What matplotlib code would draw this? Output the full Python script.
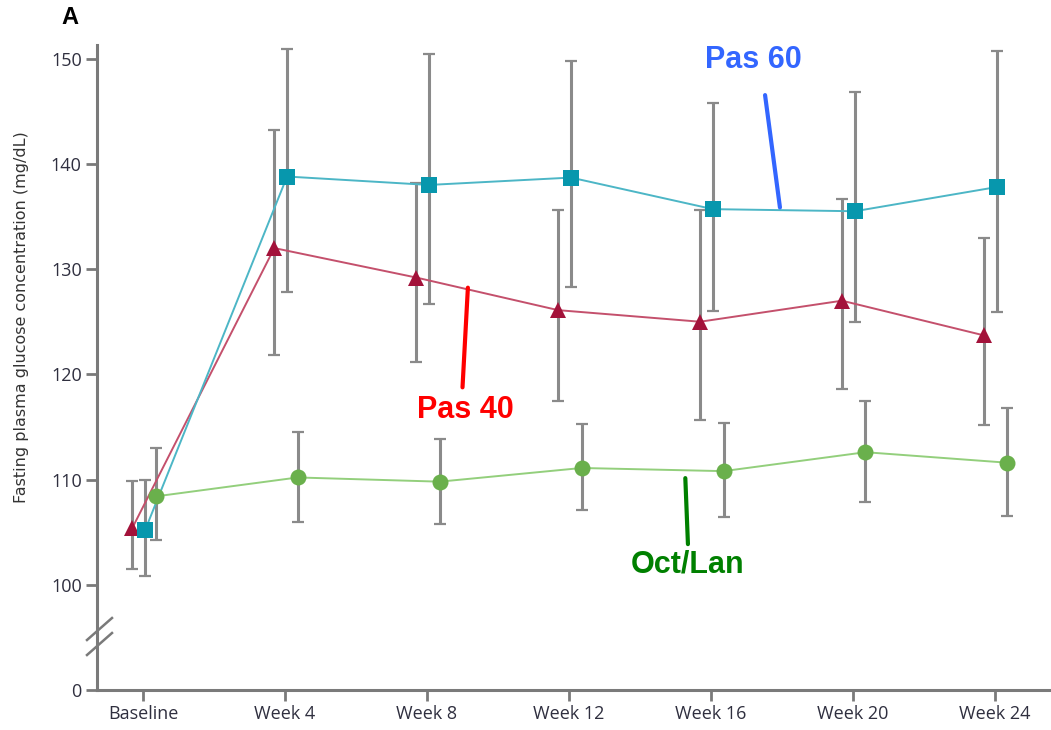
import numpy as np
import matplotlib.pyplot as plt

visits = ["Baseline", "Week 4", "Week 8", "Week 12", "Week 16", "Week 20", "Week 24"]

pas60 = [105.2, 138.8, 138.0, 138.7, 135.7, 135.5, 137.8]
pas60_lo = [100.8, 127.8, 126.7, 128.3, 126.0, 125.0, 125.9]
pas60_hi = [110.0, 150.9, 150.4, 149.8, 145.8, 146.8, 150.7]

pas40 = [105.4, 132.0, 129.2, 126.1, 125.0, 127.0, 123.7]
pas40_lo = [101.5, 121.8, 121.2, 117.5, 115.7, 118.6, 115.2]
pas40_hi = [109.9, 143.2, 138.2, 135.6, 135.6, 136.7, 133.0]

octlan = [108.4, 110.2, 109.8, 111.1, 110.8, 112.6, 111.6]
octlan_lo = [104.3, 106.0, 105.8, 107.1, 106.4, 107.9, 106.5]
octlan_hi = [113.0, 114.5, 113.9, 115.3, 115.4, 117.5, 116.8]


# broken y axis: 0..100 squeezed into a short segment
def fwd(y):
    y = np.asarray(y, dtype=float)
    return np.where(y >= 100, y, 90 + y / 10)


def inv(v):
    v = np.asarray(v, dtype=float)
    return np.where(v >= 100, v, (v - 90) * 10)


fig = plt.figure(figsize=(10.51, 7.30), dpi=100)
ax = fig.add_axes([97 / 1051, 1 - 690 / 730, 953 / 1051, 645 / 730])
ax.set_yscale("function", functions=(fwd, inv))

x = np.arange(len(visits))
series = [
    (pas40, pas40_lo, pas40_hi, -0.075, "^", "#a3123a", "#c4506c"),
    (pas60, pas60_lo, pas60_hi, 0.015, "s", "#0797ad", "#4cb6c6"),
    (octlan, octlan_lo, octlan_hi, 0.09, "o", "#6ab04c", "#93cf7c"),
]

for vals, lo, hi, off, mk, mcol, lcol in series:
    vals = np.array(vals)
    err = [vals - np.array(lo), np.array(hi) - vals]
    xs = x + off
    ax.errorbar(xs, vals, yerr=err, fmt="none", ecolor="#8a8a8a",
                elinewidth=2.2, capsize=4, capthick=1.6, zorder=2)
    ax.plot(xs, vals, color=lcol, lw=1.4, zorder=3)
    ax.plot(xs, vals, ls="none", marker=mk, color=mcol, ms=12 if mk != "o" else 11.5,
            markeredgewidth=0, zorder=4)

ax.set_xlim(-0.324, 6.39)
ax.set_ylim(0, 151.3)
ax.set_yticks([0, 100, 110, 120, 130, 140, 150])
ax.set_xticks(x)
ax.set_xticklabels(visits)

for s in ["top", "right"]:
    ax.spines[s].set_visible(False)
for s in ["left", "bottom"]:
    ax.spines[s].set_color("#7a7a7a")
    ax.spines[s].set_linewidth(2.2)
ax.tick_params(axis="both", direction="out", length=8, width=2, color="#7a7a7a",
               labelsize=13, labelcolor="#2f2f3f", pad=3)
for lab in ax.get_xticklabels() + ax.get_yticklabels():
    lab.set_family(["Open Sans", "DejaVu Sans"])

ax.set_ylabel("Fasting plasma glucose concentration (mg/dL)",
              family=["Liberation Sans Narrow", "DejaVu Sans"], fontsize=11.5,
              color="#333333")
ax.yaxis.set_label_coords(-0.071, 0.578)

# axis break marks
for y0 in [(690 - 655) / 645, (690 - 640) / 645]:
    ax.plot([-10 / 953, 15 / 953], [y0, y0 + 22 / 645], transform=ax.transAxes,
            color="#7a7a7a", lw=1.8, clip_on=False, zorder=5)

# series labels
ax.annotate("", xy=(4.49, 135.6), xytext=(4.38, 146.8),
            arrowprops=dict(arrowstyle="-", color="#3366ff", lw=3))
ax.text(4.30, 149.9, "Pas 60", color="#3366ff", fontsize=22, fontweight="bold",
        ha="center", va="center", family="Liberation Sans")

ax.annotate("", xy=(2.25, 118.5), xytext=(2.29, 128.5),
            arrowprops=dict(arrowstyle="-", color="#ff0000", lw=3))
ax.text(2.27, 116.6, "Pas 40", color="#ff0000", fontsize=22, fontweight="bold",
        ha="center", va="center", family="Liberation Sans")

ax.annotate("", xy=(3.84, 103.6), xytext=(3.82, 110.4),
            arrowprops=dict(arrowstyle="-", color="#008000", lw=3))
ax.text(3.84, 101.9, "Oct/Lan", color="#008000", fontsize=22, fontweight="bold",
        ha="center", va="center", family="Liberation Sans")

fig.text(70 / 1051, 1 - 18 / 730, "A", fontsize=17, fontweight="bold",
         ha="center", va="center", family="Liberation Sans")

fig.savefig("out.png", dpi=100)
